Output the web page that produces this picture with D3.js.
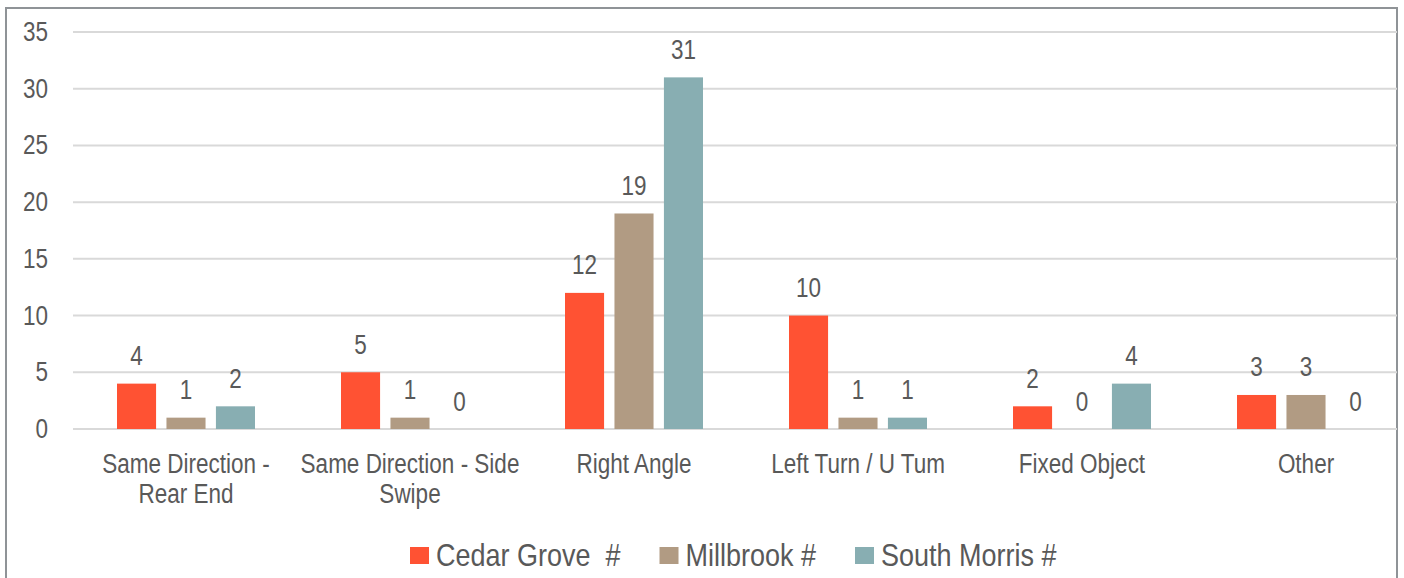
<!DOCTYPE html>
<html>
<head>
<meta charset="utf-8">
<script src="https://cdn.jsdelivr.net/npm/d3@7"></script>
<style>
  body { margin: 0; background: #fff; }
  text { font-family: "Liberation Sans", Arial, sans-serif; fill: #595959; white-space: pre; }
</style>
</head>
<body>
<script>
// data
var categories = ["Same Direction - Rear End", "Same Direction - Side Swipe", "Right Angle",
                  "Left Turn / U Tum", "Fixed Object", "Other"];
var categoryLines = [["Same Direction -", "Rear End"], ["Same Direction - Side", "Swipe"], ["Right Angle"],
                     ["Left Turn / U Tum"], ["Fixed Object"], ["Other"]];
var seriesNames = ["Cedar Grove  #", "Millbrook #", "South Morris #"];
var cedarGrove = [4, 5, 12, 10, 2, 3];
var millbrook = [1, 1, 19, 1, 0, 3];
var southMorris = [2, 0, 31, 1, 4, 0];
var yTicks = [0, 5, 10, 15, 20, 25, 30, 35];
var colors = ["#FF5233", "#B19B83", "#88AEB2"];

var allSeries = [cedarGrove, millbrook, southMorris];

var W = 1404, H = 578;
var sy = 1.2; // vertical stretch of the text in the picture

var svg = d3.select("body").append("svg")
  .attr("width", W)
  .attr("height", H);

// frame
svg.append("rect")
  .attr("x", 6).attr("y", 8)
  .attr("width", 1391).attr("height", 600)
  .attr("fill", "none")
  .attr("stroke", "#8F9397")
  .attr("stroke-width", 2);

var x0 = d3.scaleBand().domain(categories).range([74, 1418]);
var x1 = d3.scaleBand().domain(seriesNames).range([43, 181]).paddingInner(0.21);
var y = d3.scaleLinear().domain([0, 35]).range([429, 32]);

function stretched(sel, xf, yf) {
  return sel.attr("transform", function(d, i) {
    return "translate(" + xf(d, i) + "," + yf(d, i) + ") scale(1," + sy + ")";
  });
}

// grid
svg.append("g").selectAll("line")
  .data(yTicks)
  .enter().append("line")
  .attr("x1", 73).attr("x2", 1397)
  .attr("y1", function(d) { return y(d); })
  .attr("y2", function(d) { return y(d); })
  .attr("stroke", "#D9D9D9")
  .attr("stroke-width", 2);

// y tick labels
stretched(svg.append("g").selectAll("text")
  .data(yTicks)
  .enter().append("text")
  .attr("text-anchor", "end")
  .style("font-size", "22.5px")
  .text(function(d) { return d; }),
  function() { return 48; },
  function(d) { return y(d) + 9; });

// bars
var groups = svg.append("g").selectAll("g")
  .data(categories)
  .enter().append("g")
  .attr("transform", function(d) { return "translate(" + x0(d) + ",0)"; });

groups.selectAll("rect")
  .data(function(d, i) {
    return seriesNames.map(function(s, k) { return {s: s, k: k, v: allSeries[k][i]}; });
  })
  .enter().append("rect")
  .attr("x", function(d) { return x1(d.s); })
  .attr("width", x1.bandwidth())
  .attr("y", function(d) { return y(d.v); })
  .attr("height", function(d) { return y(0) - y(d.v); })
  .attr("fill", function(d) { return colors[d.k]; });

// value labels
groups.each(function(c, i) {
  var data = seriesNames.map(function(s, k) { return {s: s, k: k, v: allSeries[k][i]}; });
  stretched(d3.select(this).selectAll("text.val")
    .data(data)
    .enter().append("text")
    .attr("class", "val")
    .attr("text-anchor", "middle")
    .style("font-size", "22.5px")
    .text(function(d) { return d.v; }),
    function(d) { return x1(d.s) + x1.bandwidth() / 2; },
    function(d) { return y(d.v) - 18.5; });
});

// category labels
categories.forEach(function(c, i) {
  stretched(svg.append("g").selectAll("text")
    .data(categoryLines[i])
    .enter().append("text")
    .attr("text-anchor", "middle")
    .style("font-size", "22.5px")
    .text(function(d) { return d; }),
    function() { return x0(c) + x0.bandwidth() / 2; },
    function(d, j) { return 473 + j * 30; });
});

// legend
var lx = 410;
seriesNames.forEach(function(s, k) {
  svg.append("rect")
    .attr("x", lx).attr("y", 547)
    .attr("width", 19).attr("height", 17)
    .attr("fill", colors[k]);
  var t = svg.append("text")
    .attr("transform", "translate(" + (lx + 26) + ",565.5) scale(1," + (sy - 0.02) + ")")
    .style("font-size", "27px")
    .text(s);
  lx += 26 + t.node().getComputedTextLength() + 39;
});
</script>
</body>
</html>
